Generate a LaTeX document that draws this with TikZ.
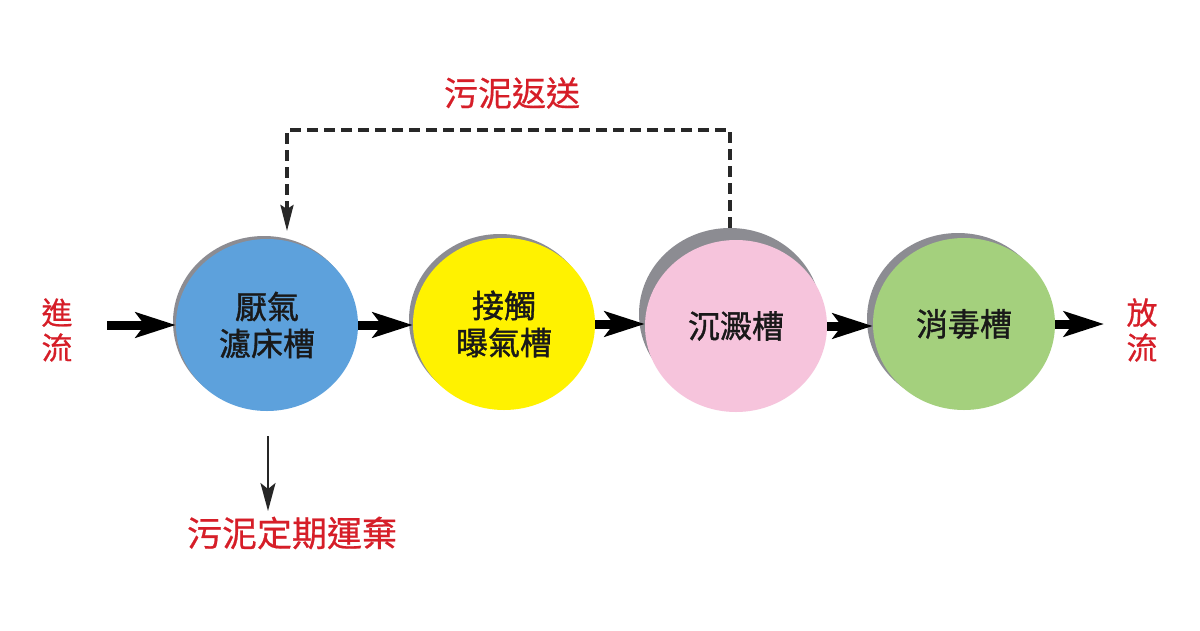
\documentclass[tikz,border=0pt]{standalone}
\usepackage{fontspec}
\newfontfamily\cjk{Noto Sans CJK TC}
\newfontfamily\cjkb[FakeBold=1.2]{Noto Sans CJK TC}
\newfontfamily\cjkm[FakeBold=0.6]{Noto Sans CJK TC}
\usetikzlibrary{arrows.meta,shapes.geometric,shadows,calc}
\definecolor{tankblue}{RGB}{93,161,220}
\definecolor{tankyellow}{RGB}{255,242,0}
\definecolor{tankpink}{RGB}{246,196,220}
\definecolor{tankgreen}{RGB}{164,208,125}
\definecolor{shadowgray}{RGB}{140,140,146}
\definecolor{labelred}{RGB}{214,30,40}
\definecolor{dashgray}{RGB}{40,40,40}
\begin{document}
\begin{tikzpicture}[x=1pt,y=-1pt,
  tank/.style={ellipse, minimum width=182pt, minimum height=172pt, inner sep=0pt,
    align=center, font=\cjkb\fontsize{32}{37}\selectfont, text=black!90},
  flow/.style={-{Stealth[length=40pt,width=25pt,inset=9pt]}, line width=9pt, black},
  lbl/.style={text=labelred, align=center, inner sep=0pt},
  ret/.style={dashgray, line width=3.2pt, dash pattern=on 11pt off 6pt,
    -{Stealth[length=26pt,width=13pt,inset=4pt]}},
  drain/.style={black!85, line width=2.4pt, -{Stealth[length=28pt,width=15pt,inset=6pt]}}
]
\useasboundingbox (0,0) rectangle (1200,630);
\fill[white] (0,0) rectangle (1200,630);

% tanks
\node[tank, fill=tankblue,
  general shadow={fill=shadowgray, shadow xshift=-3pt, shadow yshift=3pt}]
  (c1) at (267,325) {厭氣\\濾床槽};
\node[tank, fill=tankyellow,
  general shadow={fill=shadowgray, shadow xshift=-4pt, shadow yshift=4pt}]
  (c2) at (504,324) {接觸\\曝氣槽};
\node[tank, fill=tankpink,
  general shadow={fill=shadowgray, shadow xshift=-6pt, shadow yshift=12pt}]
  (c3) at (736,326) {沉澱槽};
\node[tank, fill=tankgreen,
  general shadow={fill=shadowgray, shadow xshift=-6pt, shadow yshift=5pt}]
  (c4) at (964,324) {消毒槽};

% labels
\node[lbl, font=\cjkm\fontsize{31}{35}\selectfont] (in) at (57,330) {進\\流};
\node[lbl, font=\cjkm\fontsize{31}{35}\selectfont] (out) at (1142,330) {放\\流};
\node[lbl, font=\cjkm\fontsize{34}{38}\selectfont] (rettxt) at (512,93) {污泥返送};
\node[lbl, font=\cjkm\fontsize{35}{38}\selectfont] (waste) at (292,533) {污泥定期運棄};

% coordinates
\coordinate (inflow) at (107,325);
\coordinate (outtip) at (1104,324);
\coordinate (rs) at ($(c3.north)+(-6,-12)$);
\coordinate (re) at (287,231);
\coordinate (sd) at (268,436);
\coordinate (se) at (268,511);

% main flow
\draw[flow] (inflow) -- (c1.west);
\draw[flow] (c1.east) -- (c1.east -| c2.west);
\draw[flow] (c2.east) -- (c2.east -| c3.west);
\draw[flow] (c3.east) -- (c3.east -| c4.west);
\draw[flow] (c4.east) -- (outtip);

% sludge return
\draw[ret] (rs) -- (rs |- 0,130) -| (re);

% sludge removal
\draw[drain] (sd) -- (se);
\end{tikzpicture}
\end{document}
